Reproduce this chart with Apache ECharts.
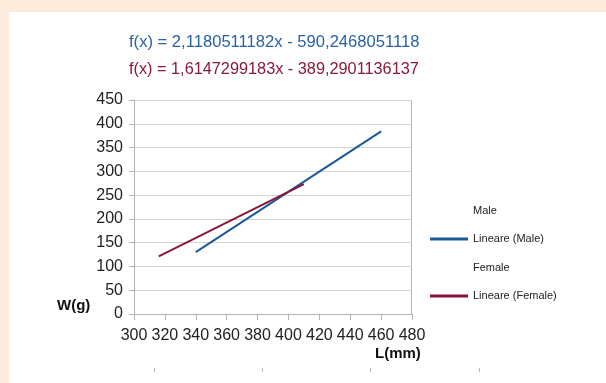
<!DOCTYPE html>
<html>
<head>
<meta charset="utf-8">
<script src="https://cdn.jsdelivr.net/npm/echarts@6/dist/echarts.min.js"></script>
<style>
  html, body { margin: 0; padding: 0; background: #fdecdc; }
  .panel { position: absolute; left: 9px; top: 12px; width: 597px; height: 371px; background: #ffffff; }
  #chart { position: absolute; left: 0; top: 0; width: 606px; height: 383px; }
</style>
</head>
<body>
<div class="panel"></div>
<div id="chart"></div>
<script>
// 数据
const maleL = [340, 460]
const maleW = [130, 384]
const femaleL = [316, 410]
const femaleW = [121, 273]
const xTicks = { min: 300, max: 480, interval: 20 }
const yTicks = { min: 0, max: 450, interval: 50 }
const maleFormula = 'f(x) = 2,1180511182x - 590,2468051118'
const femaleFormula = 'f(x) = 1,6147299183x - 389,2901136137'
const legendNames = ['Male', 'Lineare (Male)', 'Female', 'Lineare (Female)']

const blue = '#1b5a9a'
const red = '#8a1538'
const font = 'Liberation Sans, Arial, sans-serif'

const chart = echarts.init(document.getElementById('chart'))

const pairs = (xs, ys) => xs.map((x, i) => [x, ys[i]])

// 图例：Male / Female 没有图标
const legendData = legendNames.map(n => (
  n.startsWith('Lineare')
    ? { name: n, icon: 'rect' }
    : { name: n, icon: 'rect', itemStyle: { opacity: 0 } }
))

const option = {
  animation: false,
  backgroundColor: 'transparent',
  textStyle: { fontFamily: font },
  grid: { left: 134, right: 194, top: 100, bottom: 69, containLabel: false },
  xAxis: {
    type: 'value',
    min: xTicks.min, max: xTicks.max, interval: xTicks.interval,
    axisLine: { show: true, onZero: false, lineStyle: { color: '#b3b3b3' } },
    axisTick: { show: true, length: 6, lineStyle: { color: '#b3b3b3' } },
    axisLabel: { color: '#222', fontSize: 16, margin: 14 },
    splitLine: { show: false }
  },
  yAxis: {
    type: 'value',
    min: yTicks.min, max: yTicks.max, interval: yTicks.interval,
    axisLine: { show: true, lineStyle: { color: '#b3b3b3' } },
    axisTick: { show: true, length: 5, lineStyle: { color: '#b3b3b3' } },
    axisLabel: { color: '#222', fontSize: 16, margin: 11 },
    splitLine: { show: true, lineStyle: { color: '#d4d4d4' } }
  },
  legend: {
    orient: 'vertical',
    left: 425, top: 199,
    itemWidth: 38, itemHeight: 3, itemGap: 15.5,
    textStyle: { fontSize: 11, color: '#222', lineHeight: 13 },
    data: legendData,
    selectedMode: false
  },
  graphic: [
    { type: 'rect', shape: { x: 411, y: 100, width: 1, height: 214 }, style: { fill: '#b3b3b3' }, silent: true },
    { type: 'text', left: 129, top: 34, style: { text: maleFormula, fill: '#2863a6', font: '16.6px ' + font } },
    { type: 'text', left: 129, top: 62, style: { text: femaleFormula, fill: '#8b1a3a', font: '16.3px ' + font } },
    { type: 'text', left: 57, top: 298, style: { text: 'W(g)', fill: '#111', font: 'bold 15px ' + font } },
    { type: 'text', left: 375, top: 346, style: { text: 'L(mm)', fill: '#111', font: 'bold 15px ' + font } },
    ...[154, 262, 370, 479].map(x => ({
      type: 'rect', shape: { x: x, y: 368, width: 1, height: 4 }, style: { fill: '#bbbbbb' }, silent: true
    }))
  ],
  series: [
    { name: 'Male', type: 'scatter', data: [], itemStyle: { color: 'rgba(0,0,0,0)' } },
    {
      name: 'Lineare (Male)', type: 'line', data: pairs(maleL, maleW), showSymbol: false,
      symbol: 'none', lineStyle: { color: blue, width: 2 }, itemStyle: { color: blue }
    },
    { name: 'Female', type: 'scatter', data: [], itemStyle: { color: 'rgba(0,0,0,0)' } },
    {
      name: 'Lineare (Female)', type: 'line', data: pairs(femaleL, femaleW), showSymbol: false,
      symbol: 'none', lineStyle: { color: red, width: 2 }, itemStyle: { color: red }
    }
  ]
}

chart.setOption(option)
</script>
</body>
</html>
